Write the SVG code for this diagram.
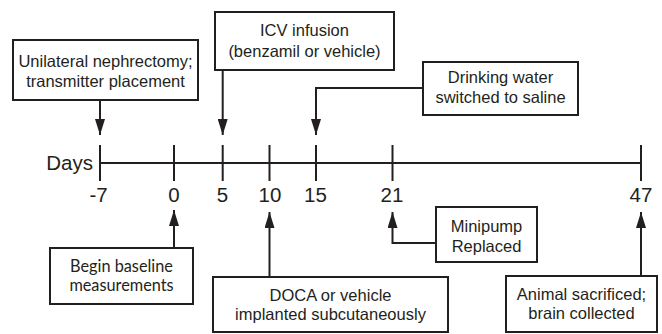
<svg xmlns="http://www.w3.org/2000/svg" width="662" height="334" viewBox="0 0 662 334">
<style>
.box{fill:#fff;stroke:#231f20;stroke-width:2}
.ln{fill:none;stroke:#231f20;stroke-width:2}
.t{font-family:"Liberation Sans",Arial,sans-serif;font-size:16.5px;fill:#231f20;text-anchor:middle}
.m{font-family:Lato,"Open Sans",sans-serif;font-size:16.3px;fill:#231f20;text-anchor:middle}
.n{font-family:"Liberation Sans",Arial,sans-serif;font-size:20.5px;fill:#231f20;text-anchor:middle}
</style>
<defs>
<marker id="ah" viewBox="0 0 16 10" refX="16" refY="5" markerWidth="16" markerHeight="10" markerUnits="userSpaceOnUse" orient="auto">
<path d="M0,0 L16,5 L0,10 Z" fill="#231f20"/>
</marker>
</defs>
<rect width="662" height="334" fill="#fff"/>
<g id="timeline">
<line class="ln" x1="100" y1="163" x2="641" y2="163"/>
<line class="ln" x1="100" y1="145" x2="100" y2="181"/>
<line class="ln" x1="174" y1="145" x2="174" y2="181"/>
<line class="ln" x1="222.7" y1="145" x2="222.7" y2="181"/>
<line class="ln" x1="269.5" y1="145" x2="269.5" y2="181"/>
<line class="ln" x1="316" y1="145" x2="316" y2="181"/>
<line class="ln" x1="392.5" y1="145" x2="392.5" y2="181"/>
<line class="ln" x1="641" y1="145" x2="641" y2="181"/>
<text class="n" x="93" y="170" style="text-anchor:end">Days</text>
<text class="n" x="98.5" y="202">-7</text>
<text class="n" x="174" y="202">0</text>
<text class="n" x="222.5" y="202">5</text>
<text class="n" x="270" y="202">10</text>
<text class="n" x="315.5" y="202">15</text>
<text class="n" x="392" y="202">21</text>
<text class="n" x="641" y="202">47</text>
</g>
<g id="connectors">
<polyline class="ln" points="100,100 100,135" marker-end="url(#ah)"/>
<polyline class="ln" points="222.7,70 222.7,135" marker-end="url(#ah)"/>
<polyline class="ln" points="423,88 316,88 316,135" marker-end="url(#ah)"/>
<polyline class="ln" points="174,248 174,210" marker-end="url(#ah)"/>
<polyline class="ln" points="269.5,277 269.5,212" marker-end="url(#ah)"/>
<polyline class="ln" points="436,243 392.5,243 392.5,212" marker-end="url(#ah)"/>
<polyline class="ln" points="641,276 641,212" marker-end="url(#ah)"/>
</g>
<g id="nephrectomy">
<rect class="box" x="13" y="40" width="185" height="60"/>
<text class="t" x="105.5" y="67">Unilateral nephrectomy;</text>
<text class="t" x="105.5" y="87">transmitter placement</text>
</g>
<g id="icv">
<rect class="box" x="215" y="12" width="179" height="58"/>
<text class="t" x="304.5" y="36">ICV infusion</text>
<text class="t" x="304.5" y="57">(benzamil or vehicle)</text>
</g>
<g id="drinking">
<rect class="box" x="423" y="62" width="155" height="53"/>
<text class="t" x="500.5" y="83">Drinking water</text>
<text class="t" x="500.5" y="103">switched to saline</text>
</g>
<g id="baseline">
<rect class="box" x="50" y="248" width="143" height="56"/>
<text class="m" x="121.5" y="272">Begin baseline</text>
<text class="m" x="121.5" y="291">measurements</text>
</g>
<g id="doca">
<rect class="box" x="213" y="277" width="235" height="55"/>
<text class="t" x="330.5" y="301">DOCA or vehicle</text>
<text class="t" x="330.5" y="320">implanted subcutaneously</text>
</g>
<g id="minipump">
<rect class="box" x="436" y="207" width="101" height="55"/>
<text class="t" x="486.5" y="232">Minipump</text>
<text class="t" x="486.5" y="252">Replaced</text>
</g>
<g id="sacrificed">
<rect class="box" x="506" y="276" width="151" height="56"/>
<text class="t" x="581.5" y="300">Animal sacrificed;</text>
<text class="t" x="581.5" y="319">brain collected</text>
</g>
</svg>
